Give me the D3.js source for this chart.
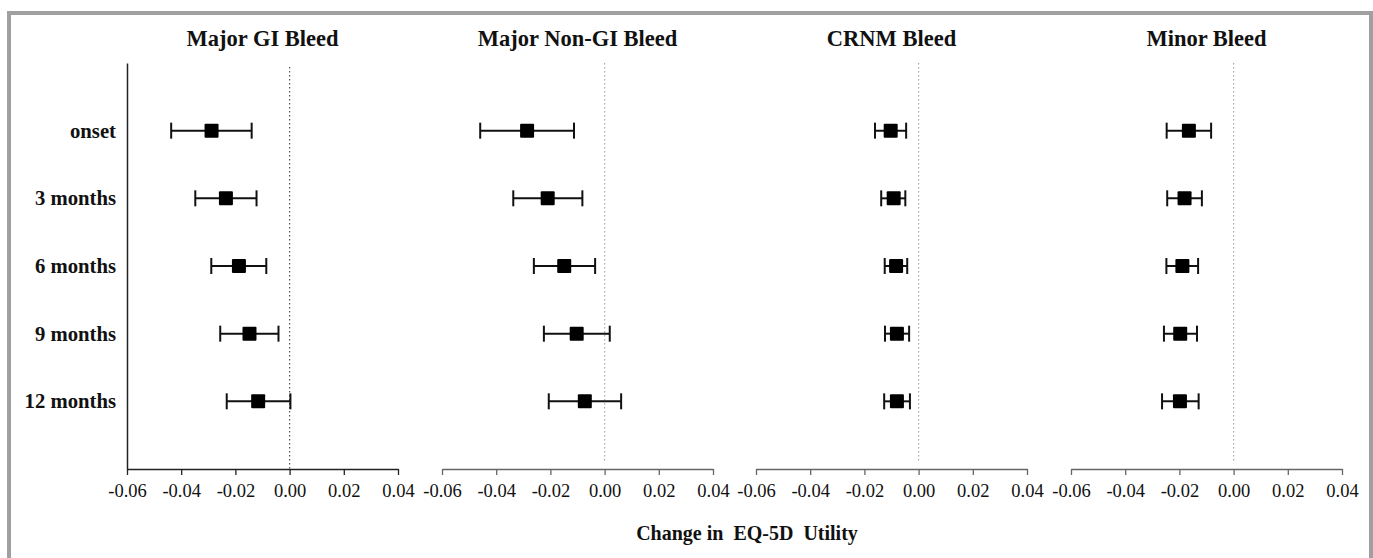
<!DOCTYPE html>
<html><head><meta charset="utf-8">
<script src="https://cdn.jsdelivr.net/npm/d3@7/dist/d3.min.js"></script>
<style>body{margin:0;background:#fff}svg{display:block}</style>
</head><body>
<svg id="c" width="1373" height="558"></svg>
<script>
const timepoints = ["onset", "3 months", "6 months", "9 months", "12 months"];
const panels = ["Major GI Bleed", "Major Non-GI Bleed", "CRNM Bleed", "Minor Bleed"];
const xTicks = [-0.06, -0.04, -0.02, 0.00, 0.02, 0.04];
const meanGI   = [-0.0288, -0.0235, -0.0187, -0.0148, -0.0116];
const lowGI    = [-0.0437, -0.0348, -0.0289, -0.0256, -0.0232];
const highGI   = [-0.0140, -0.0122, -0.0086, -0.0041, 0.0003];
const meanNGI  = [-0.0286, -0.0210, -0.0149, -0.0103, -0.0073];
const lowNGI   = [-0.0459, -0.0337, -0.0261, -0.0224, -0.0206];
const highNGI  = [-0.0113, -0.0082, -0.0035, 0.0019, 0.0061];
const meanCRNM = [-0.0103, -0.0092, -0.0083, -0.0080, -0.0080];
const lowCRNM  = [-0.0161, -0.0138, -0.0125, -0.0124, -0.0127];
const highCRNM = [-0.0046, -0.0049, -0.0042, -0.0035, -0.0032];
const meanMin  = [-0.0165, -0.0181, -0.0189, -0.0197, -0.0198];
const lowMin   = [-0.0247, -0.0245, -0.0248, -0.0257, -0.0264];
const highMin  = [-0.0083, -0.0117, -0.0131, -0.0135, -0.0129];
const xTitle = "Change in  EQ-5D  Utility";

const series = [
  [meanGI, lowGI, highGI],
  [meanNGI, lowNGI, highNGI],
  [meanCRNM, lowCRNM, highCRNM],
  [meanMin, lowMin, highMin]
];

const svg = d3.select("#c");
const serif = "'Liberation Serif','Times New Roman',serif";

svg.append("path").attr("d", "M9,560 L9,13 L1371,13 L1371,560")
  .attr("fill", "none").attr("stroke", "#a0a0a0").attr("stroke-width", 4);

const panelLeft = [127, 442, 756, 1071];
const panelW = 271;
const plotTop = 63, plotBottom = 469;

const y = d3.scaleLinear().domain([0, 6]).range([plotTop, plotBottom]);

panels.forEach((name, p) => {
  const x = d3.scaleLinear().domain([-0.06, 0.04]).range([panelLeft[p], panelLeft[p] + panelW]);
  const g = svg.append("g");
  const axisColor = p === 0 ? "#222" : "#666";

  g.append("text").attr("x", x(-0.01)).attr("y", 45.5).attr("text-anchor", "middle")
    .attr("font-family", serif).attr("font-weight", "bold").attr("font-size", 22.5)
    .attr("fill", "#111").text(name);

  g.append("line").attr("x1", x(0)).attr("x2", x(0))
    .attr("y1", p === 0 ? 67 : plotTop).attr("y2", p === 0 ? plotBottom : 463)
    .attr("stroke", p === 0 ? "#555" : "#aaa").attr("stroke-width", 1.2)
    .attr("stroke-dasharray", "1.5,2.5");

  const ax = g.append("g").attr("transform", `translate(0,${plotBottom})`)
    .call(d3.axisBottom(x).tickValues(xTicks).tickFormat(d3.format(".2f")).tickSizeOuter(0).tickSizeInner(6).tickPadding(9));
  ax.select(".domain").attr("stroke", axisColor).attr("stroke-width", 1.5);
  ax.selectAll(".tick line").attr("stroke", axisColor).attr("stroke-width", 1.3);
  ax.selectAll(".tick text").attr("font-family", serif).attr("font-size", 18.5).attr("fill", "#111")
    .text(d => d3.format(".2f")(d).replace("−", "-"));

  if (p === 0) {
    const ay = g.append("g").attr("transform", `translate(${panelLeft[0]},0)`)
      .call(d3.axisLeft(y).tickValues([1, 2, 3, 4, 5]).tickFormat(i => timepoints[i - 1]).tickSize(0).tickPadding(11));
    ay.select(".domain").attr("stroke", "#222").attr("stroke-width", 1.5);
    ay.selectAll(".tick text").attr("font-family", serif).attr("font-weight", "bold")
      .attr("font-size", 20.7).attr("fill", "#111");
  }

  const [mean, low, high] = series[p];
  const rows = g.selectAll(".row").data(timepoints).join("g");
  rows.append("line")
    .attr("x1", (d, i) => x(low[i])).attr("x2", (d, i) => x(high[i]))
    .attr("y1", (d, i) => y(i + 1)).attr("y2", (d, i) => y(i + 1))
    .attr("stroke", "#111").attr("stroke-width", 2);
  rows.append("line")
    .attr("x1", (d, i) => x(low[i])).attr("x2", (d, i) => x(low[i]))
    .attr("y1", (d, i) => y(i + 1) - 8).attr("y2", (d, i) => y(i + 1) + 8)
    .attr("stroke", "#111").attr("stroke-width", 2);
  rows.append("line")
    .attr("x1", (d, i) => x(high[i])).attr("x2", (d, i) => x(high[i]))
    .attr("y1", (d, i) => y(i + 1) - 8).attr("y2", (d, i) => y(i + 1) + 8)
    .attr("stroke", "#111").attr("stroke-width", 2);
  rows.append("rect")
    .attr("x", (d, i) => x(mean[i]) - 7).attr("y", (d, i) => y(i + 1) - 7)
    .attr("width", 14).attr("height", 14).attr("rx", 1)
    .attr("fill", "#000");
});

svg.append("text").attr("x", 747).attr("y", 540).attr("text-anchor", "middle")
  .attr("font-family", serif).attr("font-weight", "bold").attr("font-size", 20)
  .attr("fill", "#111").attr("xml:space", "preserve").style("white-space", "pre").text(xTitle);
</script>
</body></html>
